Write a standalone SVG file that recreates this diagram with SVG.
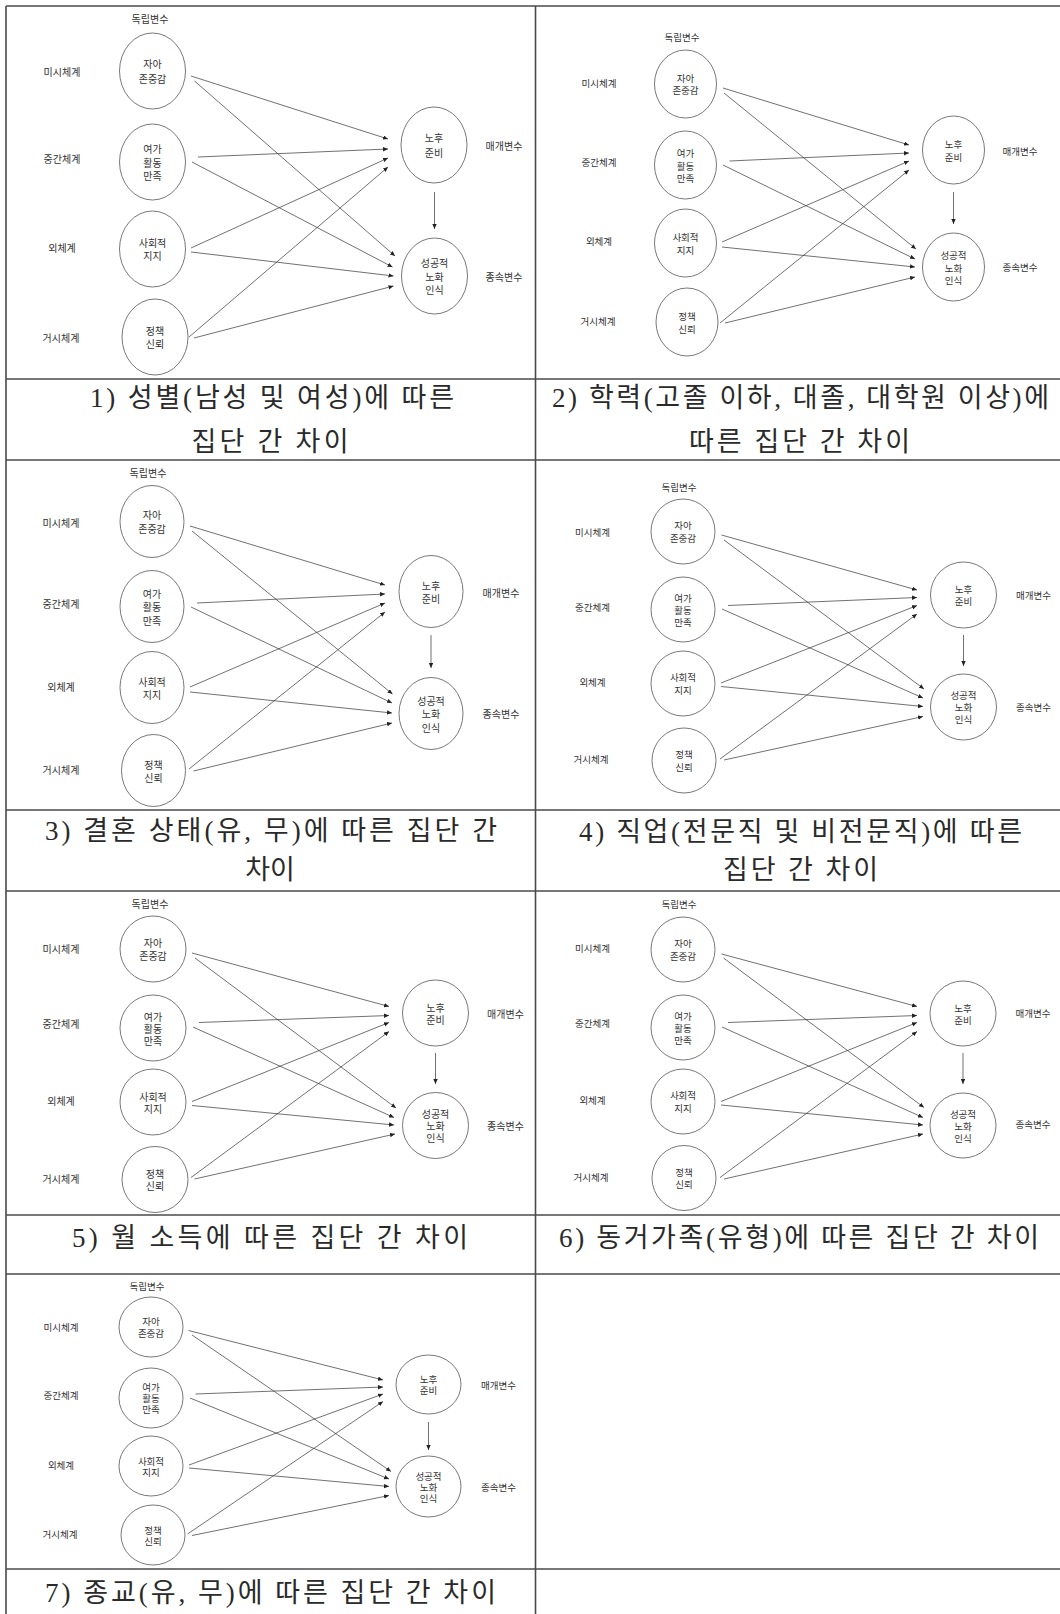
<svg xmlns="http://www.w3.org/2000/svg" width="1060" height="1614" viewBox="0 0 1060 1614">
<style>
.grid line{stroke:#4a4a4a;stroke-width:1.6}
.node ellipse{fill:#fff;stroke:#555;stroke-width:0.8}
.t{font-family:"Noto Sans CJK KR","Noto Sans",sans-serif;font-size:10px;fill:#333;text-anchor:middle;dominant-baseline:central}
.t2{font-size:9.5px}
.cap{font-family:"Liberation Serif","Noto Sans CJK KR",serif;font-size:27px;fill:#2a2a2a;text-anchor:middle;dominant-baseline:central}
#connectors line{stroke:#333;stroke-width:0.7;marker-end:url(#ah)}
</style>
<defs>
<marker id="ah" markerUnits="userSpaceOnUse" markerWidth="6" markerHeight="5" refX="5" refY="2.2" orient="auto">
<path d="M0,0 L5,2.2 L0,4.4 z" fill="#222"/>
</marker>
</defs>
<rect width="1060" height="1614" fill="#fff"/>
<g class="grid">
<line x1="6" y1="6" x2="1060" y2="6"/>
<line x1="6" y1="6" x2="6" y2="1614"/>
<line x1="535.5" y1="6" x2="535.5" y2="1614"/>
<line x1="6" y1="379" x2="1060" y2="379"/>
<line x1="6" y1="460" x2="1060" y2="460"/>
<line x1="6" y1="810" x2="1060" y2="810"/>
<line x1="6" y1="891" x2="1060" y2="891"/>
<line x1="6" y1="1215" x2="1060" y2="1215"/>
<line x1="6" y1="1274" x2="1060" y2="1274"/>
<line x1="6" y1="1569" x2="1060" y2="1569"/>
</g>

<!-- Panel 1 -->
<g id="p1-labels" class="t">
<text x="150" y="18">독립변수</text>
<text x="62" y="71">미시체계</text>
<text x="62" y="158">중간체계</text>
<text x="62" y="247">외체계</text>
<text x="61" y="337">거시체계</text>
<text x="504" y="145">매개변수</text>
<text x="504" y="276">종속변수</text>
</g>
<g id="p1-self" class="node"><ellipse cx="152.5" cy="71" rx="33" ry="38"/><text class="t" x="152.5" y="63.5">자아</text><text class="t" x="152.5" y="78">존중감</text></g>
<g id="p1-leisure" class="node"><ellipse cx="152.5" cy="162" rx="33" ry="38"/><text class="t" x="152.5" y="148">여가</text><text class="t" x="152.5" y="162">활동</text><text class="t" x="152.5" y="175.5">만족</text></g>
<g id="p1-social" class="node"><ellipse cx="152.5" cy="249" rx="33" ry="38"/><text class="t" x="152.5" y="242">사회적</text><text class="t" x="152.5" y="255.5">지지</text></g>
<g id="p1-policy" class="node"><ellipse cx="155" cy="337" rx="33" ry="38"/><text class="t" x="155" y="330">정책</text><text class="t" x="155" y="343.5">신뢰</text></g>
<g id="p1-prep" class="node"><ellipse cx="434" cy="145" rx="33" ry="38"/><text class="t" x="434" y="137.5">노후</text><text class="t" x="434" y="152">준비</text></g>
<g id="p1-aging" class="node"><ellipse cx="434.5" cy="276" rx="33" ry="38"/><text class="t" x="434.5" y="262">성공적</text><text class="t" x="434.5" y="276">노화</text><text class="t" x="434.5" y="289.5">인식</text></g>
<g id="p1-caption"><text class="cap" x="272" y="398" textLength="364" lengthAdjust="spacing">1) 성별(남성 및 여성)에 따른</text><text class="cap" x="270" y="442" textLength="157" lengthAdjust="spacing">집단 간 차이</text></g>

<!-- Panel 2 -->
<g id="p2-labels" class="t t2">
<text x="682" y="37">독립변수</text>
<text x="599" y="83">미시체계</text>
<text x="599" y="162">중간체계</text>
<text x="599" y="241">외체계</text>
<text x="598" y="321">거시체계</text>
<text x="1020" y="151">매개변수</text>
<text x="1020" y="267">종속변수</text>
</g>
<g id="p2-self" class="node"><ellipse cx="685.5" cy="84" rx="31" ry="34"/><text class="t t2" x="685.5" y="77.5">자아</text><text class="t t2" x="685.5" y="90">존중감</text></g>
<g id="p2-leisure" class="node"><ellipse cx="685.5" cy="165" rx="31" ry="34"/><text class="t t2" x="685.5" y="153">여가</text><text class="t t2" x="685.5" y="165.5">활동</text><text class="t t2" x="685.5" y="178">만족</text></g>
<g id="p2-social" class="node"><ellipse cx="685.5" cy="243" rx="31" ry="34"/><text class="t t2" x="685.5" y="237">사회적</text><text class="t t2" x="685.5" y="249.5">지지</text></g>
<g id="p2-policy" class="node"><ellipse cx="687" cy="322" rx="31" ry="34"/><text class="t t2" x="687" y="316">정책</text><text class="t t2" x="687" y="328.5">신뢰</text></g>
<g id="p2-prep" class="node"><ellipse cx="953.5" cy="150" rx="31" ry="34"/><text class="t t2" x="953.5" y="144">노후</text><text class="t t2" x="953.5" y="156.5">준비</text></g>
<g id="p2-aging" class="node"><ellipse cx="953.5" cy="267" rx="31" ry="34"/><text class="t t2" x="953.5" y="255">성공적</text><text class="t t2" x="953.5" y="267.5">노화</text><text class="t t2" x="953.5" y="280">인식</text></g>
<g id="p2-caption"><text class="cap" x="800.5" y="398" textLength="497" lengthAdjust="spacing">2) 학력(고졸 이하, 대졸, 대학원 이상)에</text><text class="cap" x="799.5" y="442" textLength="221" lengthAdjust="spacing">따른 집단 간 차이</text></g>

<!-- Panel 3 -->
<g id="p3-labels" class="t">
<text x="148" y="472">독립변수</text>
<text x="61" y="522">미시체계</text>
<text x="61" y="603">중간체계</text>
<text x="61" y="686">외체계</text>
<text x="61" y="769">거시체계</text>
<text x="501" y="592">매개변수</text>
<text x="501" y="713">종속변수</text>
</g>
<g id="p3-self" class="node"><ellipse cx="152" cy="521.5" rx="32" ry="36"/><text class="t" x="152" y="514.5">자아</text><text class="t" x="152" y="528">존중감</text></g>
<g id="p3-leisure" class="node"><ellipse cx="152" cy="606.5" rx="32" ry="36"/><text class="t" x="152" y="593">여가</text><text class="t" x="152" y="606.5">활동</text><text class="t" x="152" y="620">만족</text></g>
<g id="p3-social" class="node"><ellipse cx="152" cy="687.5" rx="32" ry="36"/><text class="t" x="152" y="681">사회적</text><text class="t" x="152" y="694.5">지지</text></g>
<g id="p3-policy" class="node"><ellipse cx="153.5" cy="770.5" rx="32" ry="36"/><text class="t" x="153.5" y="764">정책</text><text class="t" x="153.5" y="777.5">신뢰</text></g>
<g id="p3-prep" class="node"><ellipse cx="431" cy="591.5" rx="32" ry="36"/><text class="t" x="431" y="585">노후</text><text class="t" x="431" y="598.5">준비</text></g>
<g id="p3-aging" class="node"><ellipse cx="431" cy="713.5" rx="32" ry="36"/><text class="t" x="431" y="700">성공적</text><text class="t" x="431" y="713.5">노화</text><text class="t" x="431" y="727">인식</text></g>
<g id="p3-caption"><text class="cap" x="271" y="831" textLength="452" lengthAdjust="spacing">3) 결혼 상태(유, 무)에 따른 집단 간</text><text class="cap" x="270" y="870">차이</text></g>

<!-- Panel 4 -->
<g id="p4-labels" class="t t2">
<text x="679" y="487">독립변수</text>
<text x="592.5" y="532">미시체계</text>
<text x="592.5" y="607">중간체계</text>
<text x="592.5" y="682">외체계</text>
<text x="591" y="759">거시체계</text>
<text x="1033.5" y="595">매개변수</text>
<text x="1033.5" y="707">종속변수</text>
</g>
<g id="p4-self" class="node"><ellipse cx="683" cy="531.5" rx="32" ry="32.5"/><text class="t t2" x="683" y="525">자아</text><text class="t t2" x="683" y="537.5">존중감</text></g>
<g id="p4-leisure" class="node"><ellipse cx="683" cy="609.5" rx="32" ry="32.5"/><text class="t t2" x="683" y="597.5">여가</text><text class="t t2" x="683" y="609.5">활동</text><text class="t t2" x="683" y="621.5">만족</text></g>
<g id="p4-social" class="node"><ellipse cx="683" cy="683.5" rx="32" ry="32.5"/><text class="t t2" x="683" y="677">사회적</text><text class="t t2" x="683" y="689.5">지지</text></g>
<g id="p4-policy" class="node"><ellipse cx="684" cy="760.5" rx="32" ry="32.5"/><text class="t t2" x="684" y="754">정책</text><text class="t t2" x="684" y="766.5">신뢰</text></g>
<g id="p4-prep" class="node"><ellipse cx="963.5" cy="595" rx="33" ry="33"/><text class="t t2" x="963.5" y="589">노후</text><text class="t t2" x="963.5" y="601">준비</text></g>
<g id="p4-aging" class="node"><ellipse cx="963.5" cy="707" rx="33" ry="33"/><text class="t t2" x="963.5" y="695">성공적</text><text class="t t2" x="963.5" y="707">노화</text><text class="t t2" x="963.5" y="719">인식</text></g>
<g id="p4-caption"><text class="cap" x="800.5" y="832" textLength="443" lengthAdjust="spacing">4) 직업(전문직 및 비전문직)에 따른</text><text class="cap" x="800.5" y="870" textLength="155" lengthAdjust="spacing">집단 간 차이</text></g>

<!-- Panel 5 -->
<g id="p5-labels" class="t">
<text x="150" y="903">독립변수</text>
<text x="61" y="948">미시체계</text>
<text x="61" y="1023">중간체계</text>
<text x="61" y="1100">외체계</text>
<text x="61" y="1178">거시체계</text>
<text x="505.5" y="1013">매개변수</text>
<text x="505.5" y="1125">종속변수</text>
</g>
<g id="p5-self" class="node"><ellipse cx="153" cy="949" rx="33" ry="33"/><text class="t" x="153" y="942.5">자아</text><text class="t" x="153" y="955">존중감</text></g>
<g id="p5-leisure" class="node"><ellipse cx="153" cy="1028" rx="33" ry="33"/><text class="t" x="153" y="1016">여가</text><text class="t" x="153" y="1028">활동</text><text class="t" x="153" y="1040">만족</text></g>
<g id="p5-social" class="node"><ellipse cx="153" cy="1102" rx="33" ry="33"/><text class="t" x="153" y="1096">사회적</text><text class="t" x="153" y="1108">지지</text></g>
<g id="p5-policy" class="node"><ellipse cx="155" cy="1179.5" rx="33" ry="33"/><text class="t" x="155" y="1173.5">정책</text><text class="t" x="155" y="1185.5">신뢰</text></g>
<g id="p5-prep" class="node"><ellipse cx="435.5" cy="1013" rx="33" ry="33"/><text class="t" x="435.5" y="1007">노후</text><text class="t" x="435.5" y="1019">준비</text></g>
<g id="p5-aging" class="node"><ellipse cx="435.5" cy="1125.5" rx="33" ry="33"/><text class="t" x="435.5" y="1113.5">성공적</text><text class="t" x="435.5" y="1125.5">노화</text><text class="t" x="435.5" y="1137.5">인식</text></g>
<g id="p5-caption"><text class="cap" x="270" y="1238" textLength="396" lengthAdjust="spacing">5) 월 소득에 따른 집단 간 차이</text></g>

<!-- Panel 6 -->
<g id="p6-labels" class="t t2">
<text x="679" y="904">독립변수</text>
<text x="592.5" y="948">미시체계</text>
<text x="592.5" y="1023">중간체계</text>
<text x="592.5" y="1100">외체계</text>
<text x="591" y="1177">거시체계</text>
<text x="1033" y="1013">매개변수</text>
<text x="1033" y="1124">종속변수</text>
</g>
<g id="p6-self" class="node"><ellipse cx="683" cy="949.5" rx="32" ry="32.5"/><text class="t t2" x="683" y="943">자아</text><text class="t t2" x="683" y="955.5">존중감</text></g>
<g id="p6-leisure" class="node"><ellipse cx="683" cy="1027.5" rx="32" ry="32.5"/><text class="t t2" x="683" y="1015.5">여가</text><text class="t t2" x="683" y="1027.5">활동</text><text class="t t2" x="683" y="1039.5">만족</text></g>
<g id="p6-social" class="node"><ellipse cx="683" cy="1101.5" rx="32" ry="32.5"/><text class="t t2" x="683" y="1095">사회적</text><text class="t t2" x="683" y="1107.5">지지</text></g>
<g id="p6-policy" class="node"><ellipse cx="684" cy="1178" rx="32" ry="32.5"/><text class="t t2" x="684" y="1172">정책</text><text class="t t2" x="684" y="1184">신뢰</text></g>
<g id="p6-prep" class="node"><ellipse cx="963" cy="1013.5" rx="33" ry="32.5"/><text class="t t2" x="963" y="1007.5">노후</text><text class="t t2" x="963" y="1019.5">준비</text></g>
<g id="p6-aging" class="node"><ellipse cx="963" cy="1125.5" rx="33" ry="32.5"/><text class="t t2" x="963" y="1113.5">성공적</text><text class="t t2" x="963" y="1125.5">노화</text><text class="t t2" x="963" y="1137.5">인식</text></g>
<g id="p6-caption"><text class="cap" x="799" y="1238" textLength="480" lengthAdjust="spacing">6) 동거가족(유형)에 따른 집단 간 차이</text></g>

<!-- Panel 7 -->
<g id="p7-labels" class="t t2">
<text x="147" y="1286">독립변수</text>
<text x="61" y="1327">미시체계</text>
<text x="61" y="1395">중간체계</text>
<text x="61" y="1465">외체계</text>
<text x="60" y="1534">거시체계</text>
<text x="498.5" y="1385">매개변수</text>
<text x="498.5" y="1487">종속변수</text>
</g>
<g id="p7-self" class="node"><ellipse cx="151" cy="1327" rx="32" ry="30"/><text class="t t2" x="151" y="1321">자아</text><text class="t t2" x="151" y="1332.5">존중감</text></g>
<g id="p7-leisure" class="node"><ellipse cx="151" cy="1398" rx="32" ry="30"/><text class="t t2" x="151" y="1387">여가</text><text class="t t2" x="151" y="1398">활동</text><text class="t t2" x="151" y="1409">만족</text></g>
<g id="p7-social" class="node"><ellipse cx="151" cy="1466" rx="32" ry="30"/><text class="t t2" x="151" y="1460.5">사회적</text><text class="t t2" x="151" y="1471.5">지지</text></g>
<g id="p7-policy" class="node"><ellipse cx="153" cy="1535" rx="32" ry="30"/><text class="t t2" x="153" y="1529.5">정책</text><text class="t t2" x="153" y="1540.5">신뢰</text></g>
<g id="p7-prep" class="node"><ellipse cx="428.5" cy="1384.5" rx="32.5" ry="29.5"/><text class="t t2" x="428.5" y="1379">노후</text><text class="t t2" x="428.5" y="1390">준비</text></g>
<g id="p7-aging" class="node"><ellipse cx="428.5" cy="1486.5" rx="32.5" ry="30.5"/><text class="t t2" x="428.5" y="1476">성공적</text><text class="t t2" x="428.5" y="1487">노화</text><text class="t t2" x="428.5" y="1498">인식</text></g>
<g id="p7-caption"><text class="cap" x="270.5" y="1593" textLength="451" lengthAdjust="spacing">7) 종교(유, 무)에 따른 집단 간 차이</text></g>

<g id="connectors">
<!-- panel 1 -->
<line x1="191" y1="76" x2="388" y2="139"/>
<line x1="194.5" y1="81" x2="395" y2="256"/>
<line x1="198" y1="157" x2="388" y2="149"/>
<line x1="192" y1="162" x2="392.5" y2="267"/>
<line x1="191" y1="248" x2="388" y2="158"/>
<line x1="191" y1="252" x2="393.5" y2="276"/>
<line x1="189" y1="337" x2="388" y2="167"/>
<line x1="194" y1="338" x2="393.5" y2="286"/>
<line x1="434.5" y1="192" x2="434.5" y2="229"/>
<!-- panel 2 -->
<line x1="723" y1="88" x2="909" y2="145"/>
<line x1="724" y1="93" x2="916" y2="249"/>
<line x1="729.5" y1="161" x2="909" y2="153"/>
<line x1="723" y1="165" x2="915" y2="259"/>
<line x1="722" y1="242" x2="909" y2="161"/>
<line x1="722" y1="247" x2="915" y2="267"/>
<line x1="720" y1="323" x2="909" y2="170"/>
<line x1="725" y1="323" x2="915" y2="277"/>
<line x1="953.5" y1="192" x2="953.5" y2="224"/>
<!-- panel 3 -->
<line x1="190" y1="526" x2="385" y2="585"/>
<line x1="192" y1="531" x2="392.5" y2="694"/>
<line x1="197" y1="603" x2="385" y2="594"/>
<line x1="191" y1="607" x2="392" y2="703"/>
<line x1="190" y1="687" x2="385" y2="603"/>
<line x1="190" y1="692" x2="392" y2="713"/>
<line x1="189" y1="769" x2="385" y2="612"/>
<line x1="193.5" y1="771" x2="392" y2="723"/>
<line x1="431" y1="635" x2="431" y2="668"/>
<!-- panel 4 -->
<line x1="721.5" y1="535" x2="917" y2="590"/>
<line x1="724" y1="540" x2="924" y2="689"/>
<line x1="728" y1="605.5" x2="917" y2="597.5"/>
<line x1="722" y1="609" x2="923" y2="698"/>
<line x1="721" y1="683" x2="917" y2="605.5"/>
<line x1="721" y1="686.5" x2="923" y2="706.5"/>
<line x1="720" y1="759" x2="917" y2="614"/>
<line x1="724" y1="760" x2="923" y2="716.5"/>
<line x1="963.5" y1="635" x2="963.5" y2="666"/>
<!-- panel 5 -->
<line x1="192" y1="953" x2="389" y2="1006.5"/>
<line x1="195" y1="958" x2="396" y2="1108"/>
<line x1="199" y1="1022.5" x2="389" y2="1015.5"/>
<line x1="193" y1="1027" x2="394" y2="1117.5"/>
<line x1="192" y1="1101.5" x2="389" y2="1022.5"/>
<line x1="192" y1="1105.5" x2="394" y2="1125"/>
<line x1="191" y1="1177.5" x2="389" y2="1031.5"/>
<line x1="194.5" y1="1179" x2="395" y2="1134"/>
<line x1="435.5" y1="1053" x2="435.5" y2="1084"/>
<!-- panel 6 -->
<line x1="721.5" y1="954" x2="917" y2="1006.5"/>
<line x1="723.5" y1="958" x2="924" y2="1107.5"/>
<line x1="728" y1="1022.5" x2="917" y2="1015.5"/>
<line x1="722" y1="1027" x2="923" y2="1117.5"/>
<line x1="721" y1="1101.5" x2="917" y2="1022.5"/>
<line x1="721" y1="1105" x2="923" y2="1125"/>
<line x1="720" y1="1177.5" x2="917" y2="1031.5"/>
<line x1="724" y1="1179" x2="923" y2="1134"/>
<line x1="963" y1="1053" x2="963" y2="1084"/>
<!-- panel 7 -->
<line x1="188.5" y1="1330.5" x2="383" y2="1380"/>
<line x1="192" y1="1335" x2="391" y2="1471.5"/>
<line x1="195.5" y1="1394" x2="383" y2="1387"/>
<line x1="190" y1="1398" x2="389" y2="1479"/>
<line x1="189" y1="1465" x2="383" y2="1394"/>
<line x1="189" y1="1468" x2="389" y2="1486.5"/>
<line x1="187.5" y1="1534" x2="383" y2="1401.5"/>
<line x1="192" y1="1535.5" x2="389" y2="1495.5"/>
<line x1="428.5" y1="1422" x2="428.5" y2="1450"/>
</g>
</svg>
